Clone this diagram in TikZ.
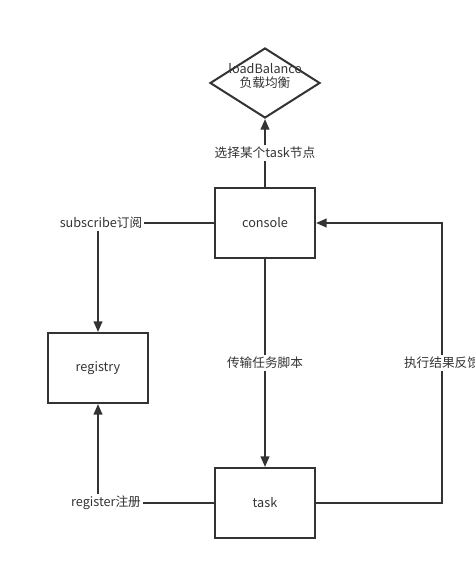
\documentclass[tikz,border=0pt]{standalone}
\usepackage{fontspec}
\setmainfont{Noto Sans CJK SC}
\usetikzlibrary{arrows.meta,shapes.geometric}
\definecolor{ink}{HTML}{333333}
\tikzset{every picture/.style={line width=1.5pt}}

\begin{document}
\begin{tikzpicture}[x=0.75pt,y=0.75pt,yscale=-1,xscale=1,color=ink,font=\fontsize{9.5}{12}\selectfont,
  box/.style={draw, minimum width=75pt, minimum height=52.5pt, inner sep=0pt},
  tag/.style={fill=white, inner sep=1.5pt},
  flow/.style={-{Triangle[length=8pt,width=6.5pt]}}]
\useasboundingbox (0,0) rectangle (474,570);

% Diamond
\node [draw, diamond, minimum width=82.5pt, minimum height=52.5pt, inner sep=0pt] (lb) at (265,83) {};
\node [align=center, inner sep=0pt] (lbtext) at (265,76) {loadBalance\\[-2pt]负载均衡};

% Boxes
\node [box] (console) at (265,223) {console};
\node [box] (registry) at (98,368) {registry};
\node [box] (task) at (265,503) {task};

% Free ends of the feedback line
\coordinate (fb) at (442,363);

% Straight Lines
\draw [flow] (console) -- node [tag] (pick) {选择某个task节点} (lb);
\draw [flow] (console) -- node [tag] (send) {传输任务脚本} (task);
\draw [flow] (console.west) -| (registry.north);
\draw [flow] (task.west) -| (registry.south);
\draw [flow] (task.east) -- (task.east -| fb) -- (console.east -| fb) -- (console.east);

% Text Node
\node [tag] (subtag) at (101,223) {subscribe订阅};
% Text Node
\node [tag] (regtag) at (106,503) {register注册};
% Text Node
\node [tag] (fbtag) at (fb) {执行结果反馈};

\end{tikzpicture}
\end{document}
